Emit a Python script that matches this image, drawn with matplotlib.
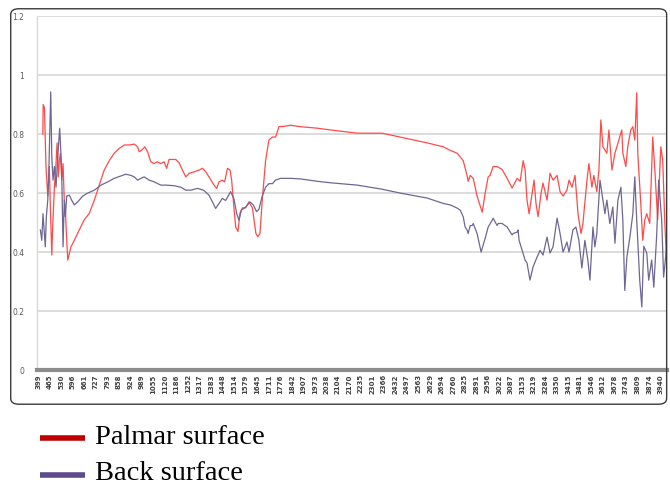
import matplotlib
matplotlib.use("Agg")
import matplotlib.pyplot as plt
from matplotlib.patches import FancyBboxPatch
from matplotlib.lines import Line2D

# wavenumber labels shown on the category axis
tick_labels = [399, 465, 530, 596, 661, 727, 793, 858, 924, 989, 1055, 1120, 1186,
               1252, 1317, 1383, 1448, 1514, 1579, 1645, 1711, 1776, 1842, 1907, 1973,
               2038, 2104, 2170, 2235, 2301, 2366, 2432, 2497, 2563, 2629, 2694, 2760,
               2825, 2891, 2956, 3022, 3087, 3153, 3219, 3284, 3350, 3415, 3481, 3546,
               3612, 3678, 3743, 3809, 3874, 3940]

# Palmar surface
palmar_w = [426, 428, 435, 444, 454, 463, 469, 477, 482, 492, 501, 507, 514, 520, 526,
            534, 541, 548, 554, 560, 568, 577, 586, 605, 633, 662, 690, 719, 747, 775,
            804, 832, 860, 889, 917, 946, 965, 974, 993, 1006, 1022, 1040, 1059, 1078,
            1097, 1116, 1130, 1144, 1164, 1182, 1201, 1220, 1239, 1258, 1286, 1315, 1334,
            1353, 1371, 1400, 1415, 1428, 1447, 1460, 1476, 1491, 1500, 1513, 1523, 1536,
            1547, 1561, 1580, 1598, 1618, 1627, 1638, 1649, 1661, 1674, 1693, 1712, 1732,
            1750, 1769, 1797, 1835, 1892, 1987, 2062, 2215, 2357, 2459, 2613, 2703, 2743,
            2783, 2817, 2839, 2845, 2857, 2874, 2896, 2925, 2942, 2959, 2970, 2987, 3010,
            3038, 3067, 3095, 3124, 3141, 3158, 3169, 3180, 3192, 3209, 3220, 3231, 3243,
            3260, 3271, 3294, 3311, 3328, 3351, 3368, 3385, 3407, 3419, 3436, 3453, 3470,
            3487, 3498, 3521, 3532, 3549, 3560, 3577, 3589, 3600, 3612, 3634, 3646, 3663,
            3680, 3697, 3719, 3725, 3742, 3753, 3770, 3782, 3793, 3804, 3810, 3827, 3838,
            3850, 3861, 3878, 3895, 3906, 3923, 3941, 3952, 3963, 3974]
palmar_v = [0.80, 0.90, 0.89, 0.69, 0.59, 0.69, 0.55, 0.39, 0.485, 0.62, 0.70, 0.77, 0.655,
            0.71, 0.735, 0.645, 0.70, 0.576, 0.55, 0.463, 0.373, 0.395, 0.418, 0.44, 0.475,
            0.51, 0.531, 0.576, 0.627, 0.678, 0.71, 0.735, 0.751, 0.763, 0.763, 0.766,
            0.757, 0.74, 0.748, 0.757, 0.74, 0.706, 0.70, 0.706, 0.70, 0.706, 0.684, 0.714,
            0.714, 0.714, 0.703, 0.678, 0.655, 0.667, 0.672, 0.678, 0.684, 0.672, 0.655,
            0.627, 0.616, 0.638, 0.644, 0.638, 0.684, 0.678, 0.644, 0.55, 0.485, 0.47,
            0.531, 0.55, 0.55, 0.57, 0.55, 0.51, 0.463, 0.452, 0.463, 0.576, 0.71, 0.78,
            0.79, 0.79, 0.825, 0.826, 0.83, 0.825, 0.82, 0.814, 0.803, 0.803, 0.79, 0.77,
            0.757, 0.745, 0.735, 0.71, 0.66, 0.64, 0.66, 0.65, 0.59, 0.535, 0.60, 0.655,
            0.66, 0.69, 0.69, 0.68, 0.65, 0.617, 0.65, 0.64, 0.71, 0.68, 0.576, 0.53, 0.60,
            0.644, 0.565, 0.52, 0.60, 0.634, 0.576, 0.667, 0.644, 0.66, 0.605, 0.59, 0.61,
            0.644, 0.62, 0.66, 0.53, 0.463, 0.497, 0.644, 0.70, 0.62, 0.66, 0.605, 0.678,
            0.848, 0.757, 0.735, 0.814, 0.678, 0.735, 0.77, 0.814, 0.735, 0.69, 0.757,
            0.814, 0.825, 0.78, 0.94, 0.735, 0.565, 0.44, 0.51, 0.53, 0.497, 0.79, 0.69,
            0.51, 0.757, 0.71, 0.51, 0.363]

# Back surface
back_w = [412, 420, 427, 435, 440, 446, 454, 460, 465, 471, 477, 484, 492, 501, 511, 516,
          522, 530, 535, 541, 548, 554, 562, 577, 590, 605, 624, 653, 681, 719, 757, 795,
          832, 870, 898, 927, 946, 965, 984, 1002, 1031, 1059, 1097, 1130, 1173, 1211,
          1239, 1270, 1305, 1340, 1371, 1391, 1409, 1428, 1447, 1466, 1494, 1513, 1529,
          1542, 1555, 1580, 1604, 1623, 1642, 1655, 1674, 1693, 1712, 1732, 1750, 1778,
          1835, 1892, 1987, 2062, 2215, 2357, 2459, 2613, 2703, 2743, 2783, 2800, 2817,
          2828, 2839, 2845, 2857, 2868, 2874, 2896, 2919, 2942, 2959, 2982, 2987, 3010,
          3016, 3038, 3067, 3095, 3101, 3124, 3129, 3135, 3152, 3169, 3180, 3197, 3214,
          3237, 3254, 3271, 3294, 3311, 3328, 3351, 3368, 3385, 3407, 3419, 3441, 3458,
          3475, 3492, 3509, 3526, 3538, 3555, 3566, 3577, 3595, 3612, 3623, 3634, 3651,
          3668, 3680, 3697, 3714, 3725, 3736, 3748, 3765, 3782, 3793, 3804, 3821, 3833,
          3844, 3861, 3872, 3889, 3901, 3918, 3929, 3946, 3957, 3974]
back_v = [0.475, 0.44, 0.53, 0.463, 0.418, 0.52, 0.576, 0.667, 0.80, 0.943, 0.723, 0.644,
          0.69, 0.62, 0.723, 0.77, 0.82, 0.72, 0.62, 0.418, 0.576, 0.52, 0.59, 0.593, 0.576,
          0.56, 0.57, 0.59, 0.60, 0.61, 0.627, 0.638, 0.65, 0.658, 0.664, 0.66, 0.655,
          0.644, 0.65, 0.655, 0.644, 0.638, 0.627, 0.627, 0.625, 0.62, 0.61, 0.61, 0.616,
          0.61, 0.593, 0.57, 0.548, 0.565, 0.582, 0.575, 0.605, 0.58, 0.53, 0.508, 0.542,
          0.553, 0.57, 0.56, 0.537, 0.545, 0.59, 0.62, 0.632, 0.632, 0.644, 0.65, 0.65,
          0.648, 0.64, 0.635, 0.627, 0.613, 0.60, 0.583, 0.565, 0.56, 0.549, 0.542, 0.52,
          0.485, 0.475, 0.463, 0.49, 0.49, 0.497, 0.463, 0.40, 0.447, 0.485, 0.508, 0.515,
          0.49, 0.497, 0.497, 0.485, 0.458, 0.463, 0.468, 0.475, 0.44, 0.406, 0.373, 0.363,
          0.305, 0.349, 0.383, 0.406, 0.39, 0.451, 0.397, 0.418, 0.515, 0.463, 0.40, 0.434,
          0.40, 0.475, 0.485, 0.44, 0.346, 0.44, 0.373, 0.305, 0.485, 0.418, 0.463, 0.644,
          0.576, 0.53, 0.576, 0.497, 0.553, 0.43, 0.576, 0.62, 0.508, 0.27, 0.383, 0.451,
          0.53, 0.655, 0.508, 0.305, 0.214, 0.42, 0.397, 0.305, 0.373, 0.281, 0.463, 0.644,
          0.508, 0.315, 0.418]

fig = plt.figure(figsize=(6.7, 4.87), dpi=100)

# rounded frame around the chart
frame = FancyBboxPatch((0.016, 0.170), 0.979, 0.812,
                       boxstyle="round,pad=0,rounding_size=0.012",
                       transform=fig.transFigure, facecolor="none",
                       edgecolor="#3a3a3a", linewidth=1.0, zorder=10)
fig.patches.append(frame)

ax = fig.add_axes([0.055, 0.240, 0.941, 0.727])
ax.set_facecolor("none")

ax.plot(palmar_w, palmar_v, color="#ff4a4a", lw=0.9, zorder=3)
ax.plot(back_w, back_v, color="#6f6693", lw=0.9, zorder=4)

ax.set_ylim(0, 1.2)
ax.set_xlim(392, 3978)
ax.set_yticks([0, 0.2, 0.4, 0.6, 0.8, 1.0, 1.2])
ax.set_yticklabels(["0", "0.2", "0.4", "0.6", "0.8", "1", "1.2"])
ax.set_xticks(tick_labels)
ax.set_xticklabels([str(t) for t in tick_labels], rotation=90)
ax.grid(axis="y", color="#d9d9d9", lw=1.3, zorder=1)
ax.tick_params(axis="y", length=0, labelsize=5.5, labelcolor="#595959", pad=9)
ax.tick_params(axis="x", length=0, labelsize=5, labelcolor="#404040", pad=3)
for lab in ax.get_xticklabels():
    lab.set_fontweight("bold")

for s in ["top", "right"]:
    ax.spines[s].set_visible(False)
ax.spines["left"].set_color("#d9d9d9")
ax.spines["left"].set_linewidth(1.0)
ax.spines["bottom"].set_color("#8c8c8c")
ax.spines["bottom"].set_linewidth(3)
ax.spines["bottom"].set_zorder(5)

# legend below the frame
fig.add_artist(Line2D([0.060, 0.127], [0.101, 0.101], transform=fig.transFigure,
                      color="#c00000", lw=4, solid_capstyle="butt"))
fig.add_artist(Line2D([0.060, 0.127], [0.025, 0.025], transform=fig.transFigure,
                      color="#5f4b8b", lw=4, solid_capstyle="butt"))
fig.text(0.142, 0.101, "Palmar surface", fontsize=20.5, family="Liberation Serif",
         va="center", ha="left", color="black")
fig.text(0.142, 0.027, "Back surface", fontsize=20.5, family="Liberation Serif",
         va="center", ha="left", color="black")

fig.savefig("out.png", dpi=100)
